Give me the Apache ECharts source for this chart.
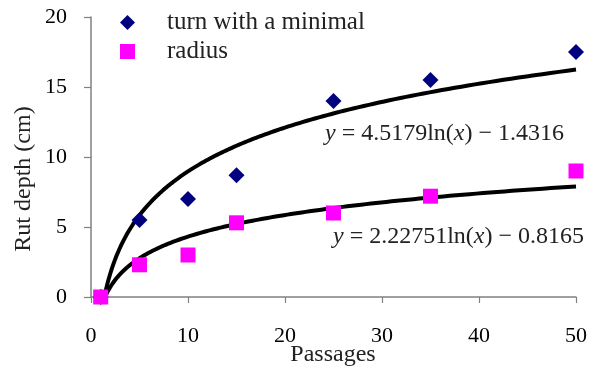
<!DOCTYPE html>
<html>
<head>
<meta charset="utf-8">
<script src="https://cdn.jsdelivr.net/npm/echarts@6/dist/echarts.min.js"></script>
<style>html,body{margin:0;padding:0;background:#fff}#c{width:596px;height:376px}</style>
</head>
<body>
<div id="c"></div>
<script>
// Data
const passages = [1, 5, 10, 15, 25, 35, 50];
const turnMinimal = [0, 5.5, 7, 8.7, 14, 15.5, 17.5];
const radius = [0, 2.3, 3, 5.3, 6, 7.2, 9];
const seriesNames = ['turn with a minimal', 'radius'];
// Logarithmic trend coefficients shown on the chart: y = a ln(x) + b
const trendTurn = [4.5179, -1.4316];
const trendRadius = [2.22751, -0.8165];
const xTicks = [0, 10, 20, 30, 40, 50];
const yTicks = [0, 5, 10, 15, 20];

const FONT = '"Liberation Serif", "DejaVu Serif", serif';
const TXT = '#222';

function trendPoints(coef, xEnd) {
  const pts = [];
  const x0 = Math.exp(-coef[1] / coef[0]);
  const n = 200;
  for (let i = 0; i <= n; i++) {
    const x = x0 * Math.pow(xEnd / x0, i / n);
    pts.push([x, coef[0] * Math.log(x) + coef[1]]);
  }
  return pts;
}

const chart = echarts.init(document.getElementById('c'));
chart.setOption({
  animation: false,
  grid: { left: 91, right: 20, top: 17, bottom: 79 },
  xAxis: {
    type: 'value', min: xTicks[0], max: xTicks[xTicks.length - 1], interval: 10,
    splitLine: { show: false },
    axisLine: { show: true, lineStyle: { color: '#808080', width: 1.5 } },
    axisTick: { show: true, length: 6, lineStyle: { color: '#808080', width: 1.2 } },
    axisLabel: { margin: 28, fontFamily: FONT, fontSize: 22, color: '#000' }
  },
  yAxis: {
    type: 'value', min: yTicks[0], max: yTicks[yTicks.length - 1], interval: 5,
    splitLine: { show: false },
    axisLine: { show: true, onZero: false, lineStyle: { color: '#808080', width: 1.5 } },
    axisTick: { show: true, length: 7, lineStyle: { color: '#808080', width: 1.2 } },
    axisLabel: { margin: 24, fontFamily: FONT, fontSize: 22, color: '#000' }
  },
  legend: {
    data: [
      { name: seriesNames[0], icon: 'diamond' },
      { name: seriesNames[1], icon: 'rect' }
    ],
    orient: 'vertical', left: 115, top: 3,
    itemWidth: 15, itemHeight: 15, itemGap: 0,
    textStyle: { fontFamily: FONT, fontSize: 25, lineHeight: 29, color: TXT, padding: [0, 0, 0, 27] }
  },
  series: [
    {
      name: 'trend1', type: 'line', data: trendPoints(trendTurn, 50),
      showSymbol: false, symbol: 'none', lineStyle: { color: '#000', width: 4 }, z: 3
    },
    {
      name: 'trend2', type: 'line', data: trendPoints(trendRadius, 50),
      showSymbol: false, symbol: 'none', lineStyle: { color: '#000', width: 4 }, z: 3
    },
    {
      name: seriesNames[0], type: 'scatter', symbol: 'diamond', symbolSize: 16,
      itemStyle: { color: '#000080', opacity: 1 }, z: 4,
      data: passages.map((p, i) => [p, turnMinimal[i]])
    },
    {
      name: seriesNames[1], type: 'scatter', symbol: 'rect', symbolSize: 15,
      itemStyle: { color: '#FF00FF', opacity: 1 }, z: 5,
      data: passages.map((p, i) => [p, radius[i]])
    }
  ],
  graphic: [
    {
      type: 'text', x: 24, y: 179, rotation: Math.PI / 2,
      style: { text: 'Rut depth (cm)', fontFamily: FONT, fontSize: 24, fill: TXT, align: 'center', verticalAlign: 'middle' }
    },
    {
      type: 'text', x: 333, y: 355,
      style: { text: 'Passages', fontFamily: FONT, fontSize: 24, fill: TXT, align: 'center', verticalAlign: 'middle' }
    },
    {
      type: 'text', x: 325, y: 134,
      style: {
        text: '{i|y} = 4.5179ln({i|x}) − 1.4316',
        fontFamily: FONT, fontSize: 24, fill: TXT, verticalAlign: 'middle',
        rich: { i: { fontStyle: 'italic', fontFamily: FONT, fontSize: 24, fill: TXT } }
      }
    },
    {
      type: 'text', x: 333, y: 237,
      style: {
        text: '{i|y} = 2.22751ln({i|x}) − 0.8165',
        fontFamily: FONT, fontSize: 24, fill: TXT, verticalAlign: 'middle',
        rich: { i: { fontStyle: 'italic', fontFamily: FONT, fontSize: 24, fill: TXT } }
      }
    }
  ]
});
</script>
</body>
</html>
